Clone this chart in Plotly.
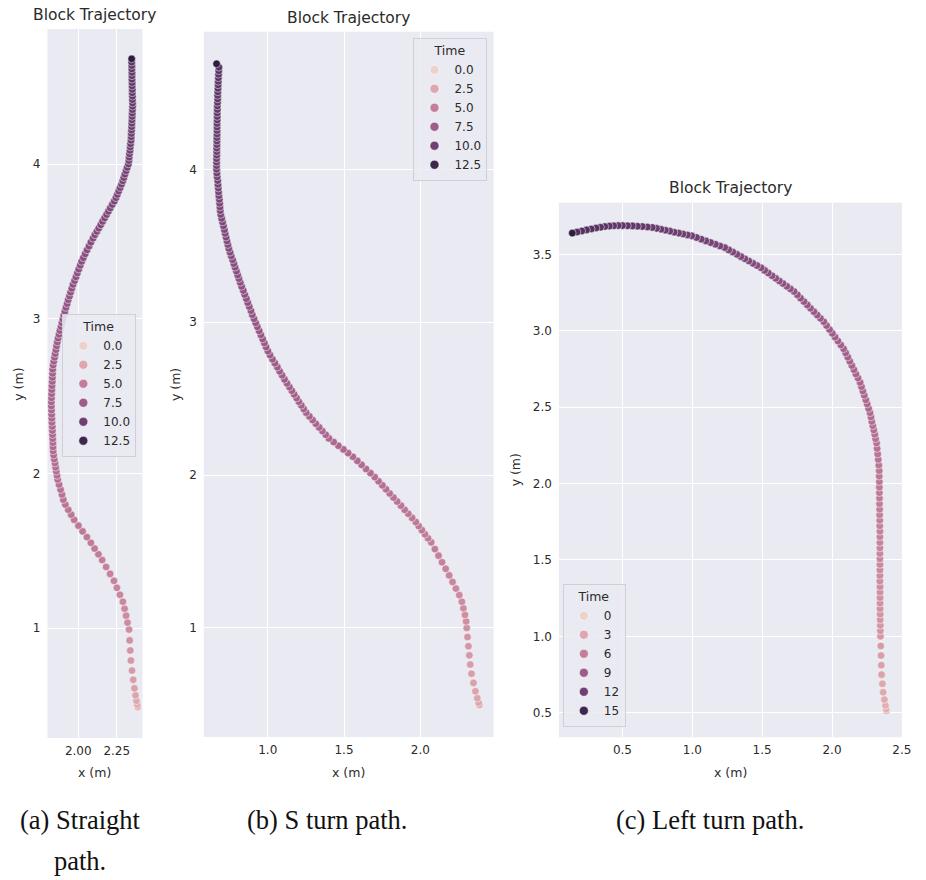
import math
import plotly.graph_objects as go

# ---------------- data ----------------
# (a) Straight path  (time; last sample is the stop time)
time_a = [2.0, 2.2, 2.4, 2.6, 2.8, 3.0, 3.2, 3.4, 3.6, 3.8, 4.0,
          4.1, 4.2, 4.3, 4.4, 4.5, 4.6, 4.7, 4.8, 4.9, 5.0,
          5.07, 5.14, 5.21, 5.28, 5.35, 5.42, 5.49, 5.56, 5.63, 5.7, 5.77, 5.84, 5.91, 5.98, 6.05, 6.12, 6.2,
          6.25, 6.29, 6.34, 6.38, 6.43, 6.48, 6.52, 6.57, 6.62, 6.66, 6.71, 6.75, 6.8, 6.85, 6.89, 6.94,
          6.98, 7.03, 7.08, 7.12, 7.17, 7.22, 7.26, 7.31, 7.35, 7.4, 7.45, 7.49, 7.54, 7.58, 7.63, 7.68,
          7.72, 7.77, 7.82, 7.86, 7.91, 7.95, 8.0,
          8.05, 8.09, 8.14, 8.18, 8.23, 8.27, 8.32, 8.36, 8.41, 8.45, 8.5, 8.54, 8.59, 8.63, 8.68, 8.72,
          8.77, 8.81, 8.86, 8.9, 8.95, 8.99, 9.04, 9.08, 9.13, 9.17, 9.22, 9.26, 9.31, 9.35, 9.4, 9.44,
          9.49, 9.53, 9.58, 9.62, 9.67, 9.71, 9.76, 9.8, 9.85, 9.9,
          9.94, 9.97, 10.01, 10.05, 10.08, 10.12, 10.16, 10.19, 10.23, 10.27, 10.3, 10.34, 10.38, 10.41,
          10.45, 10.49, 10.52, 10.56, 10.6, 10.63, 10.67, 10.71, 10.74, 10.78, 10.82, 10.85, 10.89, 10.93,
          10.96, 11.0,
          13.41]
x_a = [2.386, 2.383, 2.378, 2.372, 2.365, 2.357, 2.349, 2.342, 2.338, 2.334, 2.33,
       2.32, 2.311, 2.301, 2.29, 2.271, 2.251, 2.232, 2.207, 2.181, 2.155,
       2.131, 2.106, 2.082, 2.056, 2.028, 2.001, 1.973,
       1.954, 1.935, 1.916, 1.903, 1.894, 1.885, 1.875, 1.866,
       1.862, 1.857, 1.853, 1.849, 1.844, 1.84, 1.837, 1.836, 1.835, 1.834, 1.833, 1.832, 1.831, 1.829,
       1.828, 1.827, 1.826, 1.825, 1.825, 1.826, 1.827, 1.828, 1.829, 1.831, 1.832, 1.833, 1.834, 1.837,
       1.841, 1.846, 1.85, 1.855, 1.859, 1.864, 1.869, 1.875, 1.881, 1.888, 1.894, 1.9, 1.906, 1.913,
       1.92, 1.928, 1.935, 1.943, 1.95, 1.958, 1.966, 1.976, 1.985, 1.994, 2.003, 2.013, 2.022, 2.033,
       2.045, 2.057, 2.07, 2.082, 2.096,
       2.108, 2.121, 2.133, 2.146, 2.158, 2.171, 2.184, 2.196, 2.208, 2.221, 2.234, 2.245, 2.254, 2.263,
       2.272, 2.281, 2.289, 2.296, 2.303, 2.311, 2.318, 2.326,
       2.329, 2.331, 2.333, 2.336, 2.338, 2.34, 2.343, 2.344, 2.345, 2.346, 2.347, 2.348, 2.349, 2.35,
       2.351, 2.352, 2.353, 2.353, 2.352, 2.352, 2.351, 2.351, 2.35, 2.35, 2.349, 2.349, 2.349, 2.348,
       2.348, 2.347, 2.347]
y_a = [0.49, 0.505, 0.53, 0.565, 0.61, 0.665, 0.725, 0.79, 0.855, 0.92, 0.99,
       1.035, 1.08, 1.125, 1.17, 1.215, 1.26, 1.305, 1.35, 1.395, 1.44,
       1.477, 1.514, 1.551, 1.588, 1.625, 1.662, 1.70,
       1.733, 1.765, 1.798, 1.83, 1.863, 1.895, 1.928, 1.96,
       1.986, 2.013, 2.039, 2.066, 2.092, 2.118, 2.145, 2.171, 2.198, 2.224, 2.25, 2.277, 2.303, 2.33,
       2.356, 2.382, 2.409, 2.435, 2.462, 2.488, 2.514, 2.541, 2.567, 2.594, 2.62, 2.646, 2.673, 2.70,
       2.725, 2.75, 2.774, 2.799, 2.824, 2.849, 2.874, 2.898, 2.923, 2.948, 2.973, 2.998, 3.022, 3.047,
       3.072, 3.097, 3.122, 3.146, 3.171, 3.196, 3.221, 3.246, 3.27, 3.295, 3.32, 3.345, 3.37, 3.394,
       3.419, 3.444, 3.469, 3.494, 3.52,
       3.542, 3.564, 3.585, 3.607, 3.629, 3.651, 3.673, 3.694, 3.716, 3.738, 3.76, 3.782, 3.803, 3.825,
       3.847, 3.869, 3.891, 3.912, 3.934, 3.956, 3.978, 4.00,
       4.022, 4.044, 4.066, 4.088, 4.11, 4.131, 4.153, 4.175, 4.197, 4.219, 4.241, 4.263, 4.285, 4.307,
       4.329, 4.351, 4.373, 4.394, 4.416, 4.438, 4.46, 4.482, 4.504, 4.526, 4.548, 4.57, 4.592, 4.614,
       4.636, 4.658, 4.68]

# (b) S turn path
time_b = [2.2, 2.36, 2.52, 2.68, 2.84, 3.0, 3.16, 3.32, 3.48, 3.64, 3.8,
          3.9, 4.0, 4.1, 4.2, 4.3, 4.4, 4.5, 4.6, 4.7, 4.8, 4.9, 5.0, 5.1,
          5.16, 5.22, 5.29, 5.35, 5.41, 5.47, 5.53, 5.6, 5.66, 5.72, 5.78, 5.84, 5.91, 5.97, 6.03, 6.09,
          6.15, 6.21, 6.28, 6.34, 6.4,
          6.45, 6.49, 6.54, 6.58, 6.63, 6.67, 6.72, 6.76, 6.81, 6.85, 6.9, 6.94, 6.99, 7.03, 7.08, 7.12,
          7.17, 7.21, 7.26, 7.3,
          7.35, 7.4, 7.44, 7.49, 7.54, 7.59, 7.64, 7.68, 7.73, 7.78, 7.83, 7.88, 7.92, 7.97, 8.02, 8.07,
          8.12, 8.16, 8.21, 8.26, 8.31, 8.36, 8.4, 8.45, 8.5,
          8.55, 8.6, 8.65, 8.7, 8.75, 8.8, 8.85, 8.9, 8.95, 9.0, 9.05, 9.1, 9.15, 9.2, 9.25, 9.3, 9.35,
          9.4, 9.45, 9.5, 9.55, 9.6, 9.65, 9.7, 9.75, 9.8, 9.85, 9.9, 9.95, 10.0,
          10.04, 10.08, 10.12, 10.17, 10.21, 10.25, 10.29, 10.33, 10.37, 10.41, 10.46, 10.5, 10.54, 10.58,
          10.62, 10.66, 10.7, 10.75, 10.79, 10.83, 10.87, 10.91, 10.95, 10.99, 11.04, 11.08, 11.12, 11.16,
          11.2,
          13.41]
x_b = [2.387, 2.382, 2.373, 2.361, 2.348, 2.335, 2.327, 2.321, 2.315, 2.309, 2.304,
       2.3, 2.292, 2.282, 2.272, 2.255, 2.233, 2.211, 2.189, 2.166, 2.142, 2.119, 2.095, 2.071,
       2.05, 2.03, 2.01, 1.989, 1.97, 1.946, 1.921, 1.897, 1.873, 1.848, 1.824, 1.799, 1.775, 1.751,
       1.726, 1.701, 1.673, 1.644, 1.615, 1.587, 1.558,
       1.527, 1.496, 1.463, 1.432, 1.401, 1.38, 1.358, 1.337, 1.315, 1.294, 1.273, 1.252, 1.236, 1.22,
       1.204, 1.189, 1.173, 1.158, 1.142, 1.126,
       1.11, 1.094, 1.078, 1.063, 1.047, 1.031, 1.015, 1.001, 0.989, 0.978, 0.967, 0.955, 0.944, 0.932,
       0.921, 0.91, 0.899, 0.89, 0.879, 0.869, 0.86, 0.849, 0.84, 0.829, 0.82,
       0.811, 0.803, 0.795, 0.786, 0.778, 0.77, 0.761, 0.753, 0.745, 0.739, 0.733, 0.727, 0.721, 0.716,
       0.71, 0.704, 0.698, 0.692, 0.689, 0.687, 0.685, 0.683, 0.68, 0.678, 0.676, 0.674, 0.672, 0.669,
       0.667, 0.665,
       0.665, 0.665, 0.665, 0.666, 0.666, 0.666, 0.667, 0.667, 0.667, 0.668, 0.668, 0.668, 0.668, 0.669,
       0.669, 0.669, 0.67, 0.67, 0.671, 0.672, 0.672, 0.673, 0.674, 0.675, 0.676, 0.677, 0.678, 0.679,
       0.68, 0.665]
y_b = [0.496, 0.511, 0.541, 0.586, 0.641, 0.701, 0.761, 0.821, 0.881, 0.941, 1.0,
       1.043, 1.086, 1.129, 1.172, 1.215, 1.258, 1.301, 1.344, 1.387, 1.43, 1.473, 1.516, 1.56,
       1.587, 1.613, 1.64, 1.667, 1.693, 1.72, 1.747, 1.773, 1.80, 1.827, 1.853, 1.88, 1.907, 1.933,
       1.96, 1.987, 2.013, 2.04, 2.067, 2.093, 2.12,
       2.144, 2.168, 2.192, 2.216, 2.24, 2.264, 2.288, 2.312, 2.336, 2.36, 2.384, 2.408, 2.432, 2.456,
       2.48, 2.504, 2.528, 2.552, 2.576, 2.60,
       2.626, 2.653, 2.679, 2.706, 2.732, 2.758, 2.785, 2.811, 2.838, 2.864, 2.89, 2.917, 2.943, 2.97,
       2.996, 3.022, 3.049, 3.075, 3.102, 3.128, 3.154, 3.181, 3.207, 3.234, 3.26,
       3.285, 3.309, 3.334, 3.359, 3.383, 3.408, 3.433, 3.457, 3.482, 3.507, 3.531, 3.556, 3.581, 3.605,
       3.63, 3.655, 3.679, 3.704, 3.729, 3.753, 3.778, 3.803, 3.827, 3.852, 3.877, 3.901, 3.926, 3.951,
       3.975, 4.0,
       4.023, 4.046, 4.069, 4.092, 4.115, 4.138, 4.161, 4.184, 4.207, 4.23, 4.253, 4.276, 4.299, 4.322,
       4.345, 4.368, 4.391, 4.414, 4.437, 4.46, 4.483, 4.506, 4.529, 4.552, 4.575, 4.598, 4.621, 4.644,
       4.667, 4.69]

# (c) Left turn path
time_c = [2.0, 2.2, 2.4, 2.6, 2.8, 3.0, 3.2, 3.4, 3.6, 3.8, 4.0,
          4.09, 4.19, 4.28, 4.37, 4.46, 4.56, 4.65, 4.74, 4.84, 4.93, 5.02, 5.11, 5.21, 5.3,
          5.39, 5.47, 5.56, 5.64, 5.73, 5.81, 5.9, 5.99, 6.07, 6.16, 6.24, 6.33, 6.41, 6.5,
          6.59, 6.67, 6.76, 6.84, 6.93, 7.01, 7.1, 7.19, 7.27, 7.36, 7.44, 7.53, 7.61, 7.7,
          7.76, 7.82, 7.88, 7.94, 8.0, 8.05, 8.11, 8.17, 8.23, 8.29, 8.35, 8.41, 8.47, 8.53, 8.59, 8.65,
          8.7, 8.76, 8.82, 8.88, 8.94, 9.0,
          9.08, 9.17, 9.25, 9.33, 9.42, 9.5, 9.58, 9.67, 9.75, 9.83, 9.92, 10.0, 10.08, 10.17, 10.25,
          10.33, 10.42, 10.5,
          10.59, 10.69, 10.78, 10.88, 10.97, 11.06, 11.16, 11.25, 11.34, 11.44, 11.53, 11.63, 11.72,
          11.81, 11.91, 12.0,
          12.07, 12.13, 12.2, 12.27, 12.33, 12.4, 12.47, 12.53, 12.6, 12.67, 12.73, 12.8, 12.87, 12.93, 13.0,
          13.08, 13.16, 13.24, 13.32, 13.4, 13.48, 13.56, 13.64, 13.72, 13.8,
          16.08]
x_c = [2.39, 2.388, 2.383, 2.375, 2.366, 2.361, 2.355, 2.353, 2.351, 2.349, 2.347,
       2.346, 2.346, 2.345, 2.345, 2.344, 2.344, 2.344, 2.344, 2.344, 2.343, 2.343, 2.343, 2.343, 2.343,
       2.343, 2.343, 2.343, 2.343, 2.343, 2.342, 2.342, 2.341, 2.341, 2.34, 2.34, 2.339, 2.339, 2.339,
       2.338, 2.338, 2.335, 2.331, 2.327, 2.323, 2.319,
       2.312, 2.306, 2.299, 2.292, 2.285, 2.279, 2.272, 2.262, 2.252, 2.242, 2.231, 2.221, 2.211, 2.201,
       2.186, 2.171, 2.157, 2.142, 2.127, 2.113, 2.098, 2.083, 2.063, 2.042, 2.022, 2.002, 1.982, 1.961,
       1.941, 1.917, 1.894, 1.87, 1.846, 1.823, 1.799, 1.775, 1.752, 1.728, 1.702, 1.676, 1.649, 1.623,
       1.597, 1.571, 1.544, 1.518, 1.492, 1.463, 1.434, 1.405, 1.376, 1.348, 1.319, 1.29, 1.261, 1.232,
       1.198, 1.165, 1.131, 1.097, 1.064, 1.03, 0.996, 0.965, 0.933, 0.902, 0.87, 0.839, 0.807, 0.776,
       0.744, 0.713, 0.678, 0.642, 0.607, 0.571, 0.536, 0.5, 0.469, 0.437, 0.406, 0.374, 0.343, 0.311,
       0.277, 0.243, 0.209, 0.175, 0.141]
y_c = [0.511, 0.523, 0.548, 0.586, 0.634, 0.689, 0.749, 0.811, 0.874, 0.937, 1.0,
       1.036, 1.072, 1.108, 1.145, 1.181, 1.217, 1.253, 1.289, 1.325, 1.361, 1.398, 1.434, 1.47, 1.506,
       1.542, 1.578, 1.614, 1.651, 1.687, 1.723, 1.759, 1.795, 1.831, 1.867, 1.904, 1.94, 1.976, 2.012,
       2.048, 2.084, 2.12, 2.157, 2.193, 2.229, 2.265,
       2.293, 2.322, 2.35, 2.378, 2.406, 2.435, 2.463, 2.491, 2.52, 2.548, 2.577, 2.605, 2.634, 2.662,
       2.69, 2.717, 2.745, 2.772, 2.8, 2.827, 2.855, 2.882, 2.907, 2.933, 2.958, 2.983, 3.008, 3.034,
       3.059, 3.081, 3.103, 3.125, 3.147, 3.169, 3.191, 3.213, 3.235, 3.257, 3.274, 3.291, 3.309, 3.326,
       3.343, 3.36, 3.378, 3.395, 3.412, 3.427, 3.441, 3.456, 3.471, 3.485, 3.5, 3.515, 3.529, 3.544,
       3.555, 3.566, 3.577, 3.588, 3.599, 3.61, 3.621, 3.627, 3.633, 3.639, 3.645, 3.652, 3.658, 3.664,
       3.67, 3.676, 3.679, 3.682, 3.684, 3.686, 3.687, 3.688, 3.688, 3.687, 3.685, 3.682, 3.677, 3.672,
       3.666, 3.66, 3.653, 3.646, 3.639]

time_start = 0.0

legend_vals_a = [0.0, 2.5, 5.0, 7.5, 10.0, 12.5]
legend_text_a = ["0.0", "2.5", "5.0", "7.5", "10.0", "12.5"]
legend_vals_b = [0.0, 2.5, 5.0, 7.5, 10.0, 12.5]
legend_text_b = ["0.0", "2.5", "5.0", "7.5", "10.0", "12.5"]
legend_vals_c = [0, 3, 6, 9, 12, 15]
legend_text_c = ["0", "3", "6", "9", "12", "15"]

xticks_a = [2.0, 2.25]
xticklabels_a = ["2.00", "2.25"]
xticks_b = [1.0, 1.5, 2.0]
xticklabels_b = ["1.0", "1.5", "2.0"]
xticks_c = [0.5, 1.0, 1.5, 2.0, 2.5]
xticklabels_c = ["0.5", "1.0", "1.5", "2.0", "2.5"]
yticks_ab = [1, 2, 3, 4]
yticklabels_ab = ["1", "2", "3", "4"]
yticks_c = [0.5, 1.0, 1.5, 2.0, 2.5, 3.0, 3.5]
yticklabels_c = ["0.5", "1.0", "1.5", "2.0", "2.5", "3.0", "3.5"]

for xs, ys, ts in [(x_a, y_a, time_a), (x_b, y_b, time_b), (x_c, y_c, time_c)]:
    if not (len(xs) == len(ys) == len(ts)):
        raise ValueError(f"length mismatch {len(xs)} {len(ys)} {len(ts)}")


# ---------------- seaborn default cubehelix colormap ----------------
def cubehelix(v):
    x = 0.85 - 0.7 * v
    a = 0.8 * x * (1 - x) / 2
    phi = 2 * math.pi * (0.4 * x)
    c, s = math.cos(phi), math.sin(phi)
    r = x + a * (-0.14861 * c + 1.78277 * s)
    g = x + a * (-0.29227 * c - 0.90649 * s)
    b = x + a * (1.97294 * c)
    r, g, b = [min(1, max(0, q)) for q in (r, g, b)]
    return "rgb(%d,%d,%d)" % (round(r * 255), round(g * 255), round(b * 255))


colorscale = [[i / 20, cubehelix(i / 20)] for i in range(21)]

W, H = 926, 880
FONT = "DejaVu Sans"
TXT = "#2b2b2b"
BG = "#EAEAF2"


def px(xp):
    return xp / W


def py(yp):
    return 1 - yp / H


fig = go.Figure()

panels = [
    dict(x=x_a, y=y_a, t=time_a, xa="x", ya="y", leg="legend",
         lv=legend_vals_a, lt=legend_text_a),
    dict(x=x_b, y=y_b, t=time_b, xa="x2", ya="y2", leg="legend2",
         lv=legend_vals_b, lt=legend_text_b),
    dict(x=x_c, y=y_c, t=time_c, xa="x3", ya="y3", leg="legend3",
         lv=legend_vals_c, lt=legend_text_c),
]

for p in panels:
    tmin, tmax = time_start, max(p["t"])
    fig.add_trace(go.Scatter(
        x=p["x"], y=p["y"], mode="markers", xaxis=p["xa"], yaxis=p["ya"],
        showlegend=False, hoverinfo="skip",
        marker=dict(color=p["t"], colorscale=colorscale, cmin=tmin, cmax=tmax,
                    size=7.6, line=dict(color="white", width=0.5)),
    ))
    for v, lab in zip(p["lv"], p["lt"]):
        fig.add_trace(go.Scatter(
            x=[None], y=[None], mode="markers", xaxis=p["xa"], yaxis=p["ya"],
            name=lab, legend=p["leg"], showlegend=True,
            marker=dict(color=cubehelix((v - tmin) / (tmax - tmin)), size=9,
                        line=dict(color="white", width=0.5)),
        ))


def xaxis(domain, rng, tv, tt, anchor):
    return dict(domain=domain, range=rng, tickvals=tv, ticktext=tt, anchor=anchor,
                showgrid=True, gridcolor="white", gridwidth=1.2, zeroline=False,
                showline=False, ticks="", ticklabelstandoff=4,
                tickfont=dict(family=FONT, size=12, color=TXT), fixedrange=True)


def yaxis(domain, rng, tv, tt, anchor):
    return dict(domain=domain, range=rng, tickvals=tv, ticktext=tt, anchor=anchor,
                showgrid=True, gridcolor="white", gridwidth=1.2, zeroline=False,
                showline=False, ticks="", ticklabelstandoff=6,
                tickfont=dict(family=FONT, size=12, color=TXT), fixedrange=True)


def legend(xp, yp):
    return dict(x=px(xp), y=py(yp), xanchor="left", yanchor="top",
                bgcolor="rgba(234,234,242,0.85)", bordercolor="#cfcfd6", borderwidth=1,
                font=dict(family=FONT, size=12, color=TXT),
                title=dict(text="Time", side="top center",
                           font=dict(family=FONT, size=12.5, color=TXT)),
                itemclick=False, itemdoubleclick=False, tracegroupgap=0)


fig.update_layout(
    width=W, height=H, margin=dict(l=0, r=0, t=0, b=0),
    paper_bgcolor="white", plot_bgcolor=BG,
    xaxis=xaxis([px(48), px(144)], [1.80, 2.417], xticks_a, xticklabels_a, "y"),
    yaxis=yaxis([py(738), py(29)], [0.289, 4.873], yticks_ab, yticklabels_ab, "x"),
    xaxis2=xaxis([px(206), px(499)], [0.581, 2.48], xticks_b, xticklabels_b, "y2"),
    yaxis2=yaxis([py(737), py(31.7)], [0.287, 4.90], yticks_ab, yticklabels_ab, "x2"),
    xaxis3=xaxis([px(565), px(911.7)], [0.045, 2.5], xticks_c, xticklabels_c, "y3"),
    yaxis3=yaxis([py(737.3), py(202.7)], [0.339, 3.838], yticks_c, yticklabels_c, "x3"),
    legend=legend(63, 314),
    legend2=legend(418, 38),
    legend3=legend(569, 584),
    showlegend=True,
)

annotations = []
# panel titles
for cx, cy in [(96, 15), (352, 18), (738, 188)]:
    annotations.append(dict(text="Block Trajectory", x=px(cx), y=py(cy), xref="paper",
                            yref="paper", showarrow=False, xanchor="center", yanchor="middle",
                            font=dict(family=FONT, size=15.5, color=TXT)))
# x axis titles
for cx in [96, 352.5, 738]:
    annotations.append(dict(text="x (m)", x=px(cx), y=py(772), xref="paper", yref="paper",
                            showarrow=False, xanchor="center", yanchor="middle",
                            font=dict(family=FONT, size=12.5, color=TXT)))
# y axis titles
for cx, cy in [(19, 384), (177, 385), (521, 470)]:
    annotations.append(dict(text="y (m)", x=px(cx), y=py(cy), xref="paper", yref="paper",
                            showarrow=False, xanchor="center", yanchor="middle", textangle=-90,
                            font=dict(family=FONT, size=12.5, color=TXT)))
# captions
SERIF = "Liberation Serif"
for txt, lx, cy in [("(a) Straight", 18, 820), ("path.", 53, 861),
                    ("(b) S turn path.", 248, 820), ("(c) Left turn path.", 621, 820)]:
    annotations.append(dict(text=txt, x=px(lx), y=py(cy), xref="paper", yref="paper",
                            showarrow=False, xanchor="left", yanchor="middle",
                            font=dict(family=SERIF, size=26.5, color="#111111")))
fig.update_layout(annotations=annotations)

fig.write_html("out.html")
